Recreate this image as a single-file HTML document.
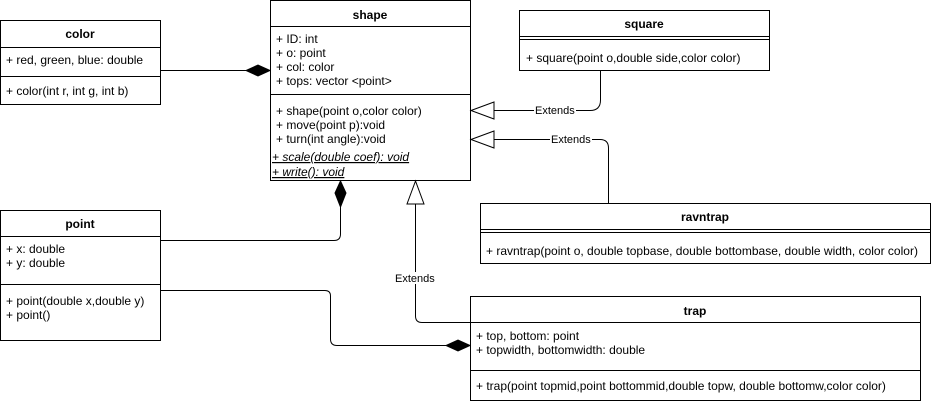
<!DOCTYPE html>
<html><head><meta charset="utf-8"><style>
html,body{margin:0;padding:0;background:#fff;}
svg{display:block;}
text{font-family:"Liberation Sans",Arial,sans-serif;font-size:12px;fill:#000;}
.b{font-weight:bold;font-size:12px;}
.e{font-size:11px;}
</style></head><body>
<svg width="931" height="404" viewBox="0 0 931 404" xmlns="http://www.w3.org/2000/svg">
<g fill="#fff" stroke="#000" stroke-width="1">
<rect x="0.5" y="20.5" width="160" height="84"/>
<line x1="0" y1="47.5" x2="161" y2="47.5"/><line x1="0" y1="76.5" x2="161" y2="76.5"/>
<rect x="270.5" y="0.5" width="200" height="180"/>
<line x1="270" y1="26.5" x2="471" y2="26.5"/><line x1="270" y1="94.5" x2="471" y2="94.5"/>
<rect x="519.5" y="10.5" width="250" height="60"/>
<line x1="519" y1="36.5" x2="770" y2="36.5"/><line x1="519" y1="39.5" x2="770" y2="39.5"/>
<rect x="480.5" y="203.5" width="450" height="60"/>
<line x1="480" y1="229.5" x2="931" y2="229.5"/><line x1="480" y1="232.5" x2="931" y2="232.5"/>
<rect x="0.5" y="210.5" width="160" height="130"/>
<line x1="0" y1="236.5" x2="161" y2="236.5"/><line x1="0" y1="284.5" x2="161" y2="284.5"/>
<rect x="470.5" y="296.5" width="450" height="104"/>
<line x1="470" y1="322.5" x2="921" y2="322.5"/><line x1="470" y1="370.5" x2="921" y2="370.5"/>
</g>
<g fill="none" stroke="#000" stroke-width="1">
<path d="M161 70.5 H246"/>
<path d="M161 240.5 H334 Q340.5 240.5 340.5 234 V207"/>
<path d="M161 290.5 H325 Q330.5 290.5 330.5 296 V339 Q330.5 345.5 337 345.5 H446"/>
<path d="M600.5 71 V100 Q600.5 110.5 590 110.5 H494"/>
<path d="M608.5 203 V148 Q608.5 139.5 600 139.5 H494"/>
<path d="M471 322.5 H422 Q415.5 322.5 415.5 316 V204"/>
</g>
<g fill="#000" stroke="#000">
<polygon points="270,70.5 258,65 246,70.5 258,76"/>
<polygon points="340.5,181 335,193 340.5,207 346,193"/>
<polygon points="470,345.5 458,340 446,345.5 458,351"/>
</g>
<g fill="#fff" stroke="#000">
<polygon points="471,110.5 494,102 494,119"/>
<polygon points="471,139.5 494,131 494,148"/>
<polygon points="415.5,181 407,204 424,204"/>
</g>
<g fill="#fff"><rect x="534" y="104" width="42" height="12"/><rect x="550" y="133" width="42" height="12"/><rect x="394" y="272" width="42" height="12"/></g>
<text class="e" x="535" y="114">Extends</text>
<text class="e" x="551" y="143">Extends</text>
<text class="e" x="395" y="282">Extends</text>

<text class="b" x="80" y="38" text-anchor="middle">color</text>
<text x="6" y="64">+ red, green, blue: double</text>
<text x="6" y="95">+ color(int r, int g, int b)</text>

<text class="b" x="370" y="19" text-anchor="middle">shape</text>
<text x="276" y="43">+ ID: int</text>
<text x="276" y="57">+ o: point</text>
<text x="276" y="71">+ col: color</text>
<text x="276" y="85">+ tops: vector &lt;point&gt;</text>
<text x="276" y="115">+ shape(point o,color color)</text>
<text x="276" y="129">+ move(point p):void</text>
<text x="276" y="143">+ turn(int angle):void</text>
<text x="272" y="161" font-style="italic" text-decoration="underline">+ scale(double coef): void</text>
<text x="272" y="176" font-style="italic" text-decoration="underline">+ write(): void</text>

<text class="b" x="644" y="28" text-anchor="middle">square</text>
<text x="526" y="62">+ square(point o,double side,color color)</text>

<text class="b" x="705" y="221" text-anchor="middle">ravntrap</text>
<text x="486" y="255">+ ravntrap(point o, double topbase, double bottombase, double width, color color)</text>

<text class="b" x="80" y="228" text-anchor="middle">point</text>
<text x="6" y="253">+ x: double</text>
<text x="6" y="267">+ y: double</text>
<text x="6" y="305">+ point(double x,double y)</text>
<text x="6" y="319">+ point()</text>

<text class="b" x="695" y="315" text-anchor="middle">trap</text>
<text x="476" y="340">+ top, bottom: point</text>
<text x="476" y="354">+ topwidth, bottomwidth: double</text>
<text x="476" y="390">+ trap(point topmid,point bottommid,double topw, double bottomw,color color)</text>
</svg>
</body></html>
